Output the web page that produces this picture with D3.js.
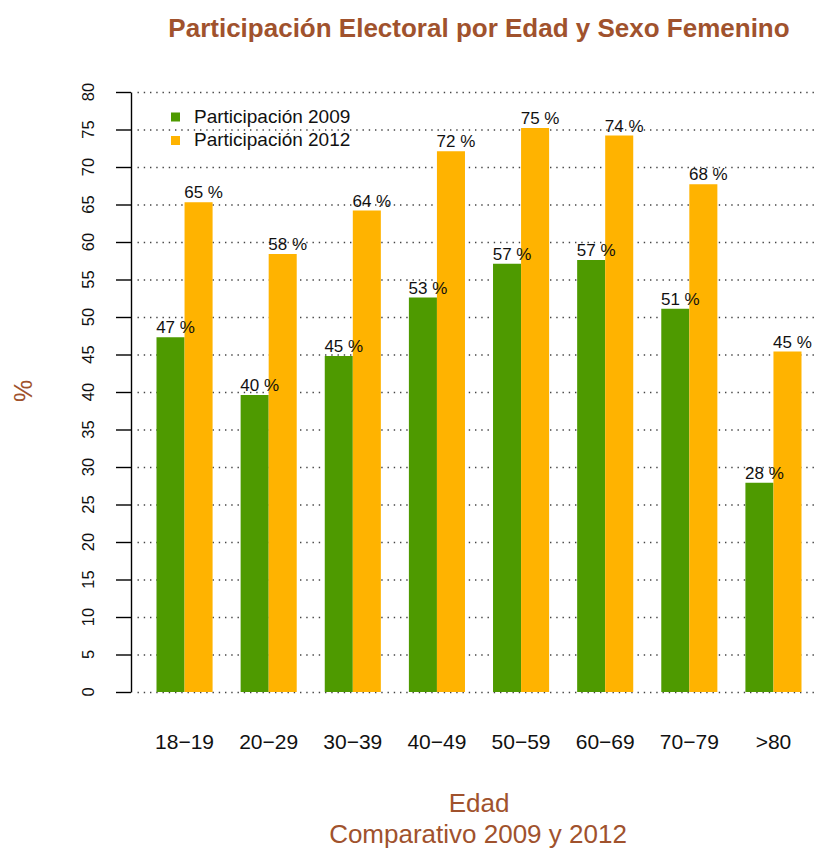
<!DOCTYPE html>
<html>
<head>
<meta charset="utf-8">
<script src="https://cdn.jsdelivr.net/npm/d3@7"></script>
<style>
  html, body { margin: 0; padding: 0; background: #fff; }
  svg { display: block; font-family: "Liberation Sans", Arial, Helvetica, sans-serif; }
</style>
</head>
<body>
<div id="chart"></div>
<script>
// ---- data ----
const categories = ["18\u221219", "20\u221229", "30\u221239", "40\u221249", "50\u221259", "60\u221269", "70\u221279", ">80"];
const series = ["Participación 2009", "Participación 2012"];
const values2009 = [47.3, 39.6, 44.8, 52.6, 57.1, 57.6, 51.1, 27.9];
const values2012 = [65.3, 58.4, 64.2, 72.1, 75.2, 74.2, 67.7, 45.4];
const labels2009 = ["47 %", "40 %", "45 %", "53 %", "57 %", "57 %", "51 %", "28 %"];
const labels2012 = ["65 %", "58 %", "64 %", "72 %", "75 %", "74 %", "68 %", "45 %"];
const yTicks = [0, 5, 10, 15, 20, 25, 30, 35, 40, 45, 50, 55, 60, 65, 70, 75, 80];
const colors = ["#4E9A00", "#FFB300"];
const titleText = "Participación Electoral por Edad y Sexo Femenino";
const xTitle = "Edad";
const subTitle = "Comparativo 2009 y 2012";
const yTitle = "%";

// ---- layout ----
const W = 817, H = 848;
const accent = "#A0522D";
const svg = d3.select("#chart").append("svg").attr("width", W).attr("height", H);

const y = d3.scaleLinear().domain([0, 80]).range([692, 92]);
const x0 = d3.scaleBand().domain(categories).range([156.5, 801.5]).paddingInner(1 / 3).paddingOuter(0);
const x1 = d3.scaleBand().domain(series).range([0, x0.bandwidth()]);

// grid
svg.append("g").selectAll("line").data(yTicks).join("line")
  .attr("x1", 137.5).attr("x2", 815)
  .attr("y1", d => y(d) + 0.5).attr("y2", d => y(d) + 0.5)
  .attr("stroke", "#444").attr("stroke-width", 1.3)
  .attr("stroke-dasharray", "1.4 4.85");

// bars
const rows = categories.map((c, i) => ({ c, vals: [values2009[i], values2012[i]], labs: [labels2009[i], labels2012[i]] }));
const groups = svg.append("g").selectAll("g").data(rows).join("g")
  .attr("transform", d => `translate(${x0(d.c)},0)`);
groups.selectAll("rect").data(d => d.vals.map((v, k) => ({ v, k, s: series[k] }))).join("rect")
  .attr("x", d => x1(d.s)).attr("width", x1.bandwidth())
  .attr("y", d => y(d.v)).attr("height", d => y(0) - y(d.v))
  .attr("fill", d => colors[d.k]);
groups.selectAll("text").data(d => d.vals.map((v, k) => ({ v, k, s: series[k], lab: d.labs[k] }))).join("text")
  .attr("x", d => x1(d.s) + x1.bandwidth() / 2 + 5)
  .attr("y", d => y(d.v) - 4)
  .attr("text-anchor", "middle")
  .attr("font-size", 17).attr("fill", "#111")
  .text(d => d.lab);

// y axis
const axis = d3.axisLeft(y).tickValues(yTicks).tickSize(15).tickSizeOuter(0).tickFormat("");
const ag = svg.append("g").attr("transform", "translate(131,0)").call(axis);
ag.selectAll("path, line").attr("stroke", "#000").attr("stroke-width", 1.4);
svg.append("g").selectAll("text").data(yTicks).join("text")
  .attr("transform", d => `translate(94.3,${y(d)}) rotate(-90)`)
  .attr("text-anchor", "middle").attr("font-size", 16.5).attr("fill", "#111")
  .text(d => d);

// x labels
svg.append("g").selectAll("text").data(categories).join("text")
  .attr("x", d => x0(d) + x0.bandwidth() / 2)
  .attr("y", 749)
  .attr("text-anchor", "middle").attr("font-size", 21).attr("fill", "#111")
  .text(d => d);

// legend
const lg = svg.append("g");
series.forEach((s, k) => {
  lg.append("rect").attr("x", 171).attr("y", 112.5 + k * 23.5).attr("width", 9).attr("height", 9).attr("fill", colors[k]);
  lg.append("text").attr("x", 194).attr("y", 123.3 + k * 23).attr("font-size", 19).attr("fill", "#111").text(s);
});

// titles
svg.append("text").attr("x", 479).attr("y", 36.7).attr("text-anchor", "middle")
  .attr("font-size", 26).attr("font-weight", "bold").attr("fill", accent).text(titleText);
svg.append("text").attr("x", 479).attr("y", 811.7).attr("text-anchor", "middle")
  .attr("font-size", 26).attr("fill", accent).text(xTitle);
svg.append("text").attr("x", 478).attr("y", 843.3).attr("text-anchor", "middle")
  .attr("font-size", 26).attr("fill", accent).text(subTitle);
svg.append("text").attr("transform", "translate(32,391) rotate(-90)").attr("text-anchor", "middle")
  .attr("font-size", 25).attr("fill", accent).text(yTitle);
</script>
</body>
</html>
